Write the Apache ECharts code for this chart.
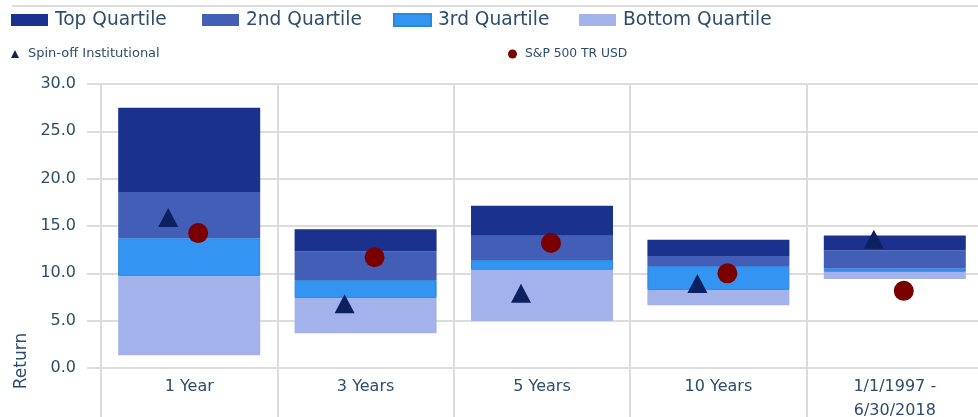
<!DOCTYPE html>
<html>
<head>
<meta charset="utf-8">
<script src="https://cdn.jsdelivr.net/npm/echarts@6/dist/echarts.min.js"></script>
<style>
  html, body { margin: 0; padding: 0; background: #fff; }
  #main { width: 978px; height: 417px; }
</style>
</head>
<body>
<div id="main"></div>
<script>
// periods on the x axis
const categories = ['1 Year', '3 Years', '5 Years', '10 Years', '1/1/1997 -\n6/30/2018'];

// quartile band edges (returns, %)
const lowEnd = [1.35, 3.67, 4.97, 6.63, 9.39];
const q25 = [9.7, 7.4, 10.37, 8.25, 10.16];
const median = [13.7, 9.28, 11.4, 10.76, 10.52];
const q75 = [18.6, 12.3, 13.97, 11.82, 12.45];
const highEnd = [27.5, 14.65, 17.15, 13.55, 14.0];

// fund and benchmark
const spinOff = [15.9, 6.8, 7.9, 8.93, 13.6];
const sp500 = [14.25, 11.7, 13.2, 10.0, 8.15];

const textColor = '#2c4d6b';
const gridColor = '#dcdcdc';
const font = 'DejaVu Sans';

const diff = (a, b) => a.map((v, i) => +(v - b[i]).toFixed(2));

const chart = echarts.init(document.getElementById('main'));

const barBase = { type: 'bar', stack: 'q', barWidth: 142 };

// one legend per item so each sits where it does in the picture
const bigLegend = (name, left) => ({
  data: [name], left: left, top: 8, padding: 0,
  icon: 'rect', itemWidth: 37, itemHeight: 12,
  textStyle: { color: textColor, fontSize: 18.6, fontFamily: font, lineHeight: 24, padding: [0, 0, 0, 2] },
  selectedMode: false
});
const smallLegend = (name, left, size, fs, pad) => ({
  data: [name], left: left, top: 46, padding: 0,
  itemWidth: size, itemHeight: size,
  textStyle: { color: textColor, fontSize: fs, fontFamily: font, lineHeight: 16, padding: [0, 0, 0, pad] },
  selectedMode: false
});

chart.setOption({
  animation: false,
  legend: [
    bigLegend('Top Quartile', 11),
    bigLegend('2nd Quartile', 202),
    bigLegend('3rd Quartile', 393),
    bigLegend('Bottom Quartile', 579),
    smallLegend('Spin-off Institutional', 11, 8, 13, 4),
    smallLegend('S&P 500 TR USD', 508, 9, 12.3, 3)
  ],
  graphic: [
    {
      type: 'line', silent: true,
      shape: { x1: 12, y1: 6, x2: 978, y2: 6 },
      style: { stroke: gridColor, lineWidth: 2 }
    },
    {
      type: 'text', silent: true, x: 22, y: 361, rotation: Math.PI / 2,
      style: { text: 'Return', fill: textColor, fontSize: 17, fontFamily: font, align: 'center', verticalAlign: 'middle' }
    }
  ],
  grid: { left: 101, top: 84, width: 882, height: 284, outerBoundsMode: 'none', containLabel: false },
  xAxis: {
    type: 'category',
    data: categories,
    axisLine: { show: false },
    axisTick: { show: true, length: 50, lineStyle: { color: gridColor, width: 2 } },
    splitLine: { show: true, lineStyle: { color: gridColor, width: 2 } },
    axisLabel: { color: textColor, fontSize: 16, fontFamily: font, lineHeight: 24, margin: 7, interval: 0 }
  },
  yAxis: {
    type: 'value',
    min: 0, max: 30, interval: 5,
    axisLine: { show: false },
    axisTick: { show: true, length: 14, lineStyle: { color: gridColor, width: 2 } },
    splitLine: { lineStyle: { color: gridColor, width: 2 } },
    axisLabel: { color: textColor, fontSize: 16, fontFamily: font, margin: 25, formatter: v => v.toFixed(1) }
  },
  series: [
    Object.assign({}, barBase, {
      name: 'base', data: lowEnd, silent: true,
      itemStyle: { color: 'transparent' }
    }),
    Object.assign({}, barBase, {
      name: 'Bottom Quartile', data: diff(q25, lowEnd),
      itemStyle: { color: '#a3b2eb' }
    }),
    Object.assign({}, barBase, {
      name: '3rd Quartile', data: diff(median, q25),
      itemStyle: { color: '#3494f2', borderColor: '#2b86e2', borderWidth: 1 }
    }),
    Object.assign({}, barBase, {
      name: '2nd Quartile', data: diff(q75, median),
      itemStyle: { color: '#425eb7' }
    }),
    Object.assign({}, barBase, {
      name: 'Top Quartile', data: diff(highEnd, q75),
      itemStyle: { color: '#1a328e' }
    }),
    {
      name: 'Spin-off Institutional', type: 'scatter', data: spinOff,
      symbol: 'triangle', symbolSize: [20, 19], symbolOffset: [-21, 0],
      itemStyle: { color: '#0d2161', opacity: 1 }, z: 5
    },
    {
      name: 'S&P 500 TR USD', type: 'scatter', data: sp500,
      symbol: 'circle', symbolSize: 20, symbolOffset: [9, 0],
      itemStyle: { color: '#7a0000', opacity: 1 }, z: 5
    }
  ]
});
</script>
</body>
</html>
